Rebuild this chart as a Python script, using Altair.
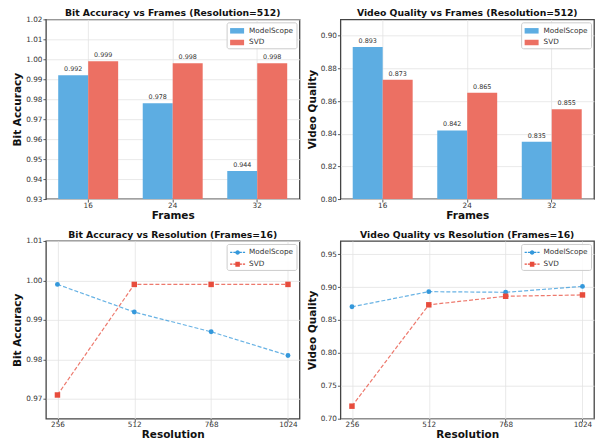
import altair as alt
import pandas as pd

FONT = "DejaVu Sans"

models = ["ModelScope", "SVD"]
bar_colors = ["#5dade2", "#ec7063"]
line_colors = ["#3498db", "#e74c3c"]

frames = ["16", "24", "32"]
bit_acc_frames_ms = [0.992, 0.978, 0.944]
bit_acc_frames_svd = [0.999, 0.998, 0.998]
vq_frames_ms = [0.893, 0.842, 0.835]
vq_frames_svd = [0.873, 0.865, 0.855]

resolutions = ["256", "512", "768", "1024"]
bit_acc_res_ms = [0.999, 0.992, 0.987, 0.981]
bit_acc_res_svd = [0.971, 0.999, 0.999, 0.999]
vq_res_ms = [0.870, 0.893, 0.892, 0.901]
vq_res_svd = [0.719, 0.873, 0.886, 0.888]

W = 254

# legend symbols (unit coordinates)
RECT_PATH = "M-1,-0.55H1.8V0.55H-1Z"
LINE_CIRCLE_PATH = ("M-1,-0.12H-0.55V0.12H-1Z M-0.35,-0.12H0.1V0.12H-0.35Z "
                    "M0.9,-0.12H1.35V0.12H0.9Z M1.55,-0.12H2V0.12H1.55Z "
                    "M0.95,0A0.45,0.45,0,1,1,0.05,0A0.45,0.45,0,1,1,0.95,0Z")
LINE_SQUARE_PATH = ("M-1,-0.12H-0.55V0.12H-1Z M-0.35,-0.12H0.1V0.12H-0.35Z "
                    "M0.9,-0.12H1.35V0.12H0.9Z M1.55,-0.12H2V0.12H1.55Z "
                    "M0.05,-0.5H0.95V0.5H0.05Z")


def legend(**extra):
    return alt.Legend(
        title=None, orient="top-right", offset=3, padding=2.5, rowPadding=1.7,
        labelFont=FONT, labelFontSize=7.3, labelColor="#333", labelOffset=8,
        fillColor="rgba(255,255,255,0.85)", strokeColor="#cccccc", cornerRadius=2,
        symbolSize=100, **extra)


def y_enc(ytitle, domain, ticks):
    return alt.Y("value:Q", scale=alt.Scale(domain=domain, nice=False, zero=False),
                 axis=alt.Axis(title=ytitle, values=ticks, format=".2f",
                               labelPadding=1, titlePadding=3))


def panel_title(text, offset):
    return alt.TitleParams(text=text, offset=offset)


def bar_panel(ms, svd, title, ytitle, domain, ticks, height, toff):
    df = pd.DataFrame({
        "Frames": frames + frames,
        "Model": [models[0]] * len(frames) + [models[1]] * len(frames),
        "value": ms + svd,
    })
    x = alt.X("Frames:N", sort=frames,
              scale=alt.Scale(paddingInner=0, paddingOuter=0),
              axis=alt.Axis(title="Frames", labelAngle=0, bandPosition=0.5, grid=True,
                            labelPadding=-1, titlePadding=2))
    xo = alt.XOffset("Model:N", sort=models,
                     scale=alt.Scale(paddingInner=0, paddingOuter=0.41))
    y = y_enc(ytitle, domain, ticks)
    bars = alt.Chart(df).mark_bar(clip=True).encode(
        x=x, xOffset=xo, y=y, y2=alt.datum(domain[0]),
        color=alt.Color("Model:N", scale=alt.Scale(domain=models, range=bar_colors),
                        legend=legend(symbolType=RECT_PATH)),
    )
    text = alt.Chart(df).mark_text(baseline="bottom", dy=-3, fontSize=6.4,
                                   color="#333", font=FONT).encode(
        x=x, xOffset=xo, y=y, text=alt.Text("value:Q", format=".3f"))
    return alt.layer(bars, text).properties(
        width=W, height=height, title=panel_title(title, toff))


def line_panel(ms, svd, title, ytitle, domain, ticks, height, toff):
    df = pd.DataFrame({
        "Resolution": resolutions + resolutions,
        "Model": [models[0]] * len(resolutions) + [models[1]] * len(resolutions),
        "value": ms + svd,
    })
    x = alt.X("Resolution:O", sort=resolutions,
              scale=alt.Scale(type="point", padding=0.15),
              axis=alt.Axis(title="Resolution", labelAngle=0, grid=True,
                            labelPadding=-1, titlePadding=2))
    y = y_enc(ytitle, domain, ticks)
    base = alt.Chart(df).encode(x=x, y=y)
    ms_data = base.transform_filter(alt.datum.Model == models[0])
    svd_data = base.transform_filter(alt.datum.Model == models[1])
    line_ms = ms_data.mark_line(strokeDash=[4, 2], strokeWidth=1.2, opacity=0.75,
                                color=line_colors[0])
    line_svd = svd_data.mark_line(strokeDash=[4, 2], strokeWidth=1.2, opacity=0.75,
                                  color=line_colors[1])
    circ = ms_data.mark_circle(size=24, opacity=1, color=line_colors[0])
    sq = svd_data.mark_square(size=30, opacity=1, color=line_colors[1])
    leg = alt.Chart(df).transform_filter("false").mark_point(
        filled=True, size=100, opacity=1).encode(
        color=alt.Color("Model:N", scale=alt.Scale(domain=models, range=line_colors),
                        legend=legend()),
        shape=alt.Shape("Model:N",
                        scale=alt.Scale(domain=models, range=[LINE_CIRCLE_PATH, LINE_SQUARE_PATH]),
                        legend=legend()),
    )
    return alt.layer(line_ms, line_svd, circ, sq, leg).properties(
        width=W, height=height, title=panel_title(title, toff))


tl = bar_panel(bit_acc_frames_ms, bit_acc_frames_svd,
               "Bit Accuracy vs Frames (Resolution=512)", "Bit Accuracy",
               [0.93, 1.02], [0.93, 0.94, 0.95, 0.96, 0.97, 0.98, 0.99, 1.00, 1.01, 1.02],
               180, -3)
tr = bar_panel(vq_frames_ms, vq_frames_svd,
               "Video Quality vs Frames (Resolution=512)", "Video Quality",
               [0.80, 0.91], [0.80, 0.82, 0.84, 0.86, 0.88, 0.90], 180, 1)
bl = line_panel(bit_acc_res_ms, bit_acc_res_svd,
                "Bit Accuracy vs Resolution (Frames=16)", "Bit Accuracy",
                [0.965, 1.01], [0.97, 0.98, 0.99, 1.00, 1.01], 178, -3)
br = line_panel(vq_res_ms, vq_res_svd,
                "Video Quality vs Resolution (Frames=16)", "Video Quality",
                [0.70, 0.97], [0.70, 0.75, 0.80, 0.85, 0.90, 0.95], 178, 1)

chart = alt.concat(
    tl, tr, bl, br, columns=2, spacing={"row": 42, "column": 41}, bounds="flush",
).resolve_scale(
    color="independent", shape="independent",
).resolve_legend(
    color="independent", shape="independent",
).properties(
    padding={"left": 12, "top": 8, "right": 5, "bottom": 5},
).configure(
    font=FONT,
).configure_view(
    stroke="#444", strokeWidth=1.3,
).configure_axis(
    labelFont=FONT, labelFontSize=7.3, labelColor="#333",
    tickColor="#333", tickSize=3, tickWidth=0.8,
    domain=False, gridColor="#e3e3e3", gridWidth=0.8,
    titleFont=FONT, titleFontSize=10.5, titleFontWeight="bold", titleColor="#111",
).configure_title(
    font=FONT, fontSize=9.3, fontWeight="bold", color="#111", anchor="middle",
)

chart.save("out.html", embed_options={"renderer": "svg", "actions": False})
